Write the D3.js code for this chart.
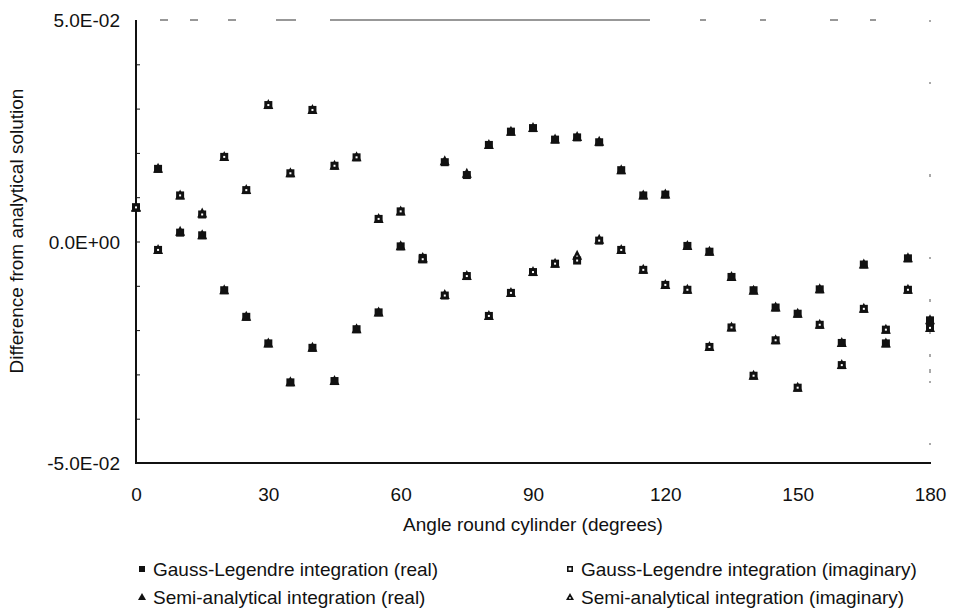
<!DOCTYPE html>
<html>
<head>
<meta charset="utf-8">
<script src="https://cdn.jsdelivr.net/npm/d3@7/dist/d3.min.js"></script>
<style>
  html, body { margin: 0; padding: 0; background: #fff; }
  svg { display: block; }
  text { font-family: "Liberation Sans", Arial, sans-serif; fill: #111; }
</style>
</head>
<body>
<svg id="chart" width="953" height="614"></svg>
<script>
// ---- data ----
const angles = [0,5,10,15,20,25,30,35,40,45,50,55,60,65,70,75,80,85,90,95,100,105,110,115,120,125,130,135,140,145,150,155,160,165,170,175,180];

const glReal = [0.0077,0.0164,0.0020,0.0014,-0.0110,-0.0170,-0.0230,-0.0318,-0.0240,-0.0315,-0.0198,-0.0160,-0.0011,-0.0037,0.0179,0.0150,0.0218,0.0248,0.0256,0.0230,0.0235,0.0224,0.0161,0.0104,0.0106,-0.0010,-0.0023,-0.0080,-0.0110,-0.0149,-0.0163,-0.0108,-0.0229,-0.0052,-0.0230,-0.0038,-0.0178];

const glImag = [0.0077,-0.0019,0.0104,0.0061,0.0191,0.0116,0.0308,0.0154,0.0297,0.0171,0.0190,0.0051,0.0068,-0.0040,-0.0122,-0.0078,-0.0168,-0.0116,-0.0069,-0.0050,-0.0043,0.0002,-0.0019,-0.0064,-0.0098,-0.0109,-0.0238,-0.0194,-0.0303,-0.0223,-0.0330,-0.0188,-0.0279,-0.0152,-0.0199,-0.0109,-0.0195];

const saReal = [0.0077,0.0164,0.0022,0.0014,-0.0110,-0.0170,-0.0230,-0.0318,-0.0240,-0.0315,-0.0198,-0.0160,-0.0011,-0.0037,0.0181,0.0153,0.0218,0.0248,0.0256,0.0230,0.0236,0.0225,0.0161,0.0104,0.0106,-0.0010,-0.0023,-0.0080,-0.0111,-0.0149,-0.0163,-0.0108,-0.0229,-0.0052,-0.0230,-0.0038,-0.0178];

const saImag = [0.0077,-0.0019,0.0104,0.0063,0.0191,0.0116,0.0308,0.0154,0.0297,0.0171,0.0190,0.0051,0.0068,-0.0040,-0.0121,-0.0078,-0.0168,-0.0116,-0.0069,-0.0050,-0.0032,0.0004,-0.0019,-0.0064,-0.0098,-0.0109,-0.0238,-0.0194,-0.0303,-0.0223,-0.0330,-0.0188,-0.0279,-0.0152,-0.0199,-0.0109,-0.0195];

const xTicks = [0,30,60,90,120,150,180];
const yTickLabels = [[-0.05,"-5.0E-02"],[0,"0.0E+00"],[0.05,"5.0E-02"]];
const yMinorTicks = [-0.04,-0.03,-0.02,-0.01,0,0.01,0.02,0.03,0.04];

const xTitle = "Angle round cylinder (degrees)";
const yTitle = "Difference from analytical solution";
const legendItems = [
  ["glReal","Gauss-Legendre integration (real)"],
  ["glImag","Gauss-Legendre integration (imaginary)"],
  ["saReal","Semi-analytical integration (real)"],
  ["saImag","Semi-analytical integration (imaginary)"]
];

// ---- layout ----
const L = 136, R = 930, T = 20, B = 463;
const svg = d3.select("#chart");
const x = d3.scaleLinear().domain([0,180]).range([L,R]);
const y = d3.scaleLinear().domain([-0.05,0.05]).range([B,T]);
const ink = "#111";

// frame remnants (scanned top / right border)
svg.append("line").attr("x1",L).attr("x2",R).attr("y1",T).attr("y2",T)
  .attr("stroke","#333").attr("stroke-width",1.2)
  .attr("stroke-dasharray","0,24,8,22,8,30,8,40,20,34,320,50,6,54,6,64,8,32,6,60");
svg.append("line").attr("x1",R).attr("x2",R).attr("y1",T).attr("y2",B)
  .attr("stroke","#555").attr("stroke-width",1)
  .attr("stroke-dasharray","2,60,2,90,3,80,2,40,3,30,2,20,3,12,4,8");

// axes
const yAxis = d3.axisRight(y).tickValues(yMinorTicks).tickSize(4).tickFormat("");
const gy = svg.append("g").attr("transform",`translate(${L},0)`).call(yAxis);
gy.select(".domain").remove();
gy.selectAll(".tick line").attr("stroke",ink).attr("stroke-width",1);
svg.append("line").attr("x1",L).attr("x2",L).attr("y1",T).attr("y2",B+0.5).attr("stroke",ink).attr("stroke-width",2);
svg.append("line").attr("x1",L-1).attr("x2",R+1).attr("y1",B).attr("y2",B).attr("stroke",ink).attr("stroke-width",2);

// y labels
svg.append("g").selectAll("text").data(yTickLabels).join("text")
  .attr("x", L-16).attr("y", d => y(d[0]) + 7)
  .attr("text-anchor","end").attr("font-size",19)
  .text(d => d[1]);

// x labels
const xAxis = d3.axisBottom(x).tickValues(xTicks).tickSize(0).tickPadding(0).tickFormat(d3.format("d"));
const gx = svg.append("g").attr("transform",`translate(0,${B})`).call(xAxis);
gx.select(".domain").remove();
gx.selectAll(".tick text").attr("font-size",19).attr("fill",ink)
  .attr("font-family","Liberation Sans, Arial, sans-serif").attr("dy",null).attr("y",38);

// titles
svg.append("text").attr("x",(L+R)/2).attr("y",531).attr("text-anchor","middle").attr("font-size",19).text(xTitle);
svg.append("text").attr("transform",`translate(23,231) rotate(-90)`).attr("text-anchor","middle").attr("font-size",19).text(yTitle);

// markers
function drawTri(g, cx, cy, imag){
  g.append("path").attr("d",`M${cx},${cy-6}L${cx+5},${cy+4}L${cx-5},${cy+4}Z`).attr("fill",ink);
  if(imag) g.append("circle").attr("cx",cx).attr("cy",cy+1).attr("r",1.1).attr("fill","#fff");
}
function drawSq(g, cx, cy, imag){
  if(imag){
    g.append("rect").attr("x",cx-2.5).attr("y",cy-2.5).attr("width",5).attr("height",5)
      .attr("fill","#fff").attr("stroke",ink).attr("stroke-width",3);
  } else {
    g.append("rect").attr("x",cx-4).attr("y",cy-4).attr("width",8).attr("height",8).attr("fill",ink);
  }
}
const seriesDefs = [
  [saReal, "tri", false], [saImag, "tri", true],
  [glReal, "sq", false], [glImag, "sq", true]
];
const gm = svg.append("g");
seriesDefs.forEach(([vals, shape, imag]) => {
  vals.forEach((v,i) => {
    const cx = x(angles[i]), cy = y(v);
    if(shape==="tri") drawTri(gm, cx, cy, imag); else drawSq(gm, cx, cy, imag);
  });
});

// legend
const legPos = {glReal:[142,569], glImag:[570,569], saReal:[142,597], saImag:[570,597]};
const gl = svg.append("g");
legendItems.forEach(([key,label]) => {
  const [lx, ly] = legPos[key];
  if(key==="glReal") gl.append("rect").attr("x",lx-3).attr("y",ly-3).attr("width",6).attr("height",6).attr("fill",ink);
  if(key==="glImag") gl.append("rect").attr("x",lx-2.2).attr("y",ly-2.2).attr("width",4.4).attr("height",4.4).attr("fill","#fff").attr("stroke",ink).attr("stroke-width",1.6);
  if(key==="saReal") gl.append("path").attr("d",`M${lx},${ly-4}L${lx+4},${ly+3}L${lx-4},${ly+3}Z`).attr("fill",ink);
  if(key==="saImag"){
    gl.append("path").attr("d",`M${lx},${ly-4}L${lx+4},${ly+3}L${lx-4},${ly+3}Z`).attr("fill",ink);
    gl.append("circle").attr("cx",lx).attr("cy",ly+1).attr("r",0.9).attr("fill","#fff");
  }
  gl.append("text").attr("x",lx+11).attr("y",ly+7).attr("font-size",19).text(label);
});
</script>
</body>
</html>
